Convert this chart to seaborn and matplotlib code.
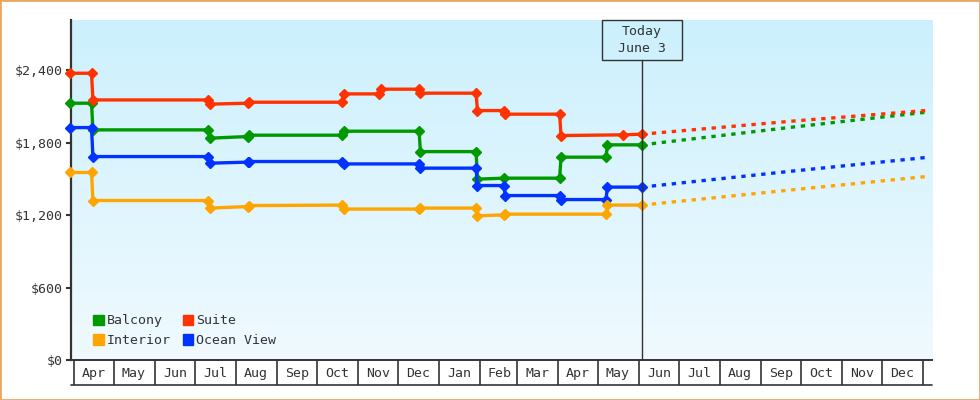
import numpy as np
import pandas as pd
import seaborn as sns
import matplotlib.pyplot as plt
import matplotlib.dates as mdates
from matplotlib.patches import Patch, Rectangle
from matplotlib.colors import LinearSegmentedColormap

# observed cabin prices (each step has a point on both ends)
balcony_dates = ['2024-03-29', '2024-04-14', '2024-04-15', '2024-07-11', '2024-07-12', '2024-08-10',
                 '2024-08-11', '2024-10-20', '2024-10-21', '2024-12-17', '2024-12-18', '2025-01-29',
                 '2025-01-30', '2025-02-19', '2025-04-02', '2025-04-03', '2025-05-07', '2025-05-08',
                 '2025-06-03']
balcony_prices = [2127, 2127, 1906, 1906, 1837, 1851, 1862, 1862, 1895, 1895, 1726, 1726,
                  1498, 1506, 1506, 1680, 1680, 1782, 1782]

suite_dates = ['2024-03-29', '2024-04-14', '2024-04-15', '2024-07-11', '2024-07-12', '2024-08-10',
               '2024-08-11', '2024-10-20', '2024-10-21', '2024-11-17', '2024-11-18', '2024-12-17',
               '2024-12-18', '2025-01-29', '2025-01-30', '2025-02-19', '2025-02-20', '2025-04-02',
               '2025-04-03', '2025-05-20', '2025-06-03']
suite_prices = [2375, 2375, 2154, 2154, 2119, 2127, 2135, 2135, 2204, 2204, 2243, 2243,
                2210, 2210, 2066, 2066, 2036, 2036, 1859, 1865, 1870]

ocean_dates = ['2024-03-29', '2024-04-14', '2024-04-15', '2024-07-11', '2024-07-12', '2024-08-10',
               '2024-08-11', '2024-10-20', '2024-10-21', '2024-12-17', '2024-12-18', '2025-01-29',
               '2025-01-30', '2025-02-19', '2025-02-20', '2025-04-02', '2025-04-03', '2025-05-07',
               '2025-05-08', '2025-06-03']
ocean_prices = [1925, 1925, 1685, 1685, 1630, 1639, 1644, 1644, 1624, 1624, 1589, 1589,
                1445, 1445, 1362, 1362, 1329, 1329, 1432, 1432]

interior_dates = ['2024-03-29', '2024-04-14', '2024-04-15', '2024-07-11', '2024-07-12', '2024-08-10',
                  '2024-08-11', '2024-10-20', '2024-10-21', '2024-12-17', '2024-12-18', '2025-01-29',
                  '2025-01-30', '2025-02-19', '2025-02-20', '2025-05-07', '2025-05-08', '2025-06-03']
interior_prices = [1553, 1553, 1321, 1321, 1258, 1271, 1279, 1283, 1250, 1250, 1258, 1258,
                   1194, 1202, 1208, 1208, 1283, 1283]

# forecast after today
forecast_dates = ['2025-06-03', '2025-09-24', '2026-01-03']
balcony_forecast = [1782, 1928, 2052]
suite_forecast = [1870, 1978, 2066]
ocean_forecast = [1432, 1564, 1677]
interior_forecast = [1283, 1409, 1519]

today = '2025-06-03'
today_label = 'Today\nJune 3'
y_ticks = [0, 600, 1200, 1800, 2400]

colors = {'Balcony': '#009900', 'Interior': '#ffa500', 'Suite': '#ff3300', 'Ocean View': '#0033ff'}

series = [
    ('Balcony', balcony_dates, balcony_prices, balcony_forecast),
    ('Ocean View', ocean_dates, ocean_prices, ocean_forecast),
    ('Interior', interior_dates, interior_prices, interior_forecast),
    ('Suite', suite_dates, suite_prices, suite_forecast),
]

sns.set_style('white')
plt.rcParams['font.family'] = ['DejaVu Sans Mono', 'DejaVu Sans']
dark = '#333333'

fig = plt.figure(figsize=(9.8, 4.0), dpi=100)
ax = fig.add_axes([71 / 980, 0.10, 861 / 980, 0.85])

# light blue gradient background
grad = LinearSegmentedColormap.from_list('bg', ['#f0faff', '#ccf0fd'])
ax.imshow(np.linspace(0, 1, 256).reshape(-1, 1), cmap=grad, origin='lower', aspect='auto',
          extent=[0, 1, 0, 1], transform=ax.transAxes, zorder=0)

for name, d, p, fc in series:
    c = colors[name]
    sns.lineplot(x=pd.to_datetime(d), y=p, ax=ax, color=c, lw=2.4, marker='D', ms=5.0,
                 markeredgecolor=c, markeredgewidth=1.0, estimator=None, sort=False,
                 clip_on=False, zorder=3)
    sns.lineplot(x=pd.to_datetime(forecast_dates), y=fc, ax=ax, color=c, lw=2.4,
                 linestyle=(0, (1.3, 1.7)), dash_capstyle='butt', estimator=None, sort=False,
                 zorder=3)

left = pd.Timestamp('2024-03-29 12:00')
ax.set_xlim(left, left + pd.Timedelta(days=649.3))
ax.set_ylim(0, 2816)

# today marker
t = mdates.date2num(pd.Timestamp(today))
box_h = 40 / 340
ax.axvline(pd.Timestamp(today), ymin=0, ymax=1 - box_h, color=dark, lw=1, zorder=4)
ax.add_patch(Rectangle((t - 30.2, 1 - box_h), 60.4, box_h, transform=ax.get_xaxis_transform(),
                       fill=False, ec=dark, lw=1, clip_on=False, zorder=4))
ax.text(pd.Timestamp(today), 1 - box_h / 2, today_label, transform=ax.get_xaxis_transform(),
        ha='center', va='center', fontsize=9.5, color=dark, linespacing=1.35, zorder=5)

# axes styling
for s in ['top', 'right']:
    ax.spines[s].set_visible(False)
ax.spines['left'].set_color(dark)
ax.spines['left'].set_linewidth(1.6)
ax.spines['bottom'].set_color(dark)
ax.spines['bottom'].set_linewidth(1.4)

ax.set_yticks(y_ticks)
ax.set_yticklabels([f'${v:,}' for v in y_ticks])
ax.tick_params(axis='y', length=3.6, width=1.5, color=dark, labelcolor=dark, labelsize=9.5, pad=2,
               left=True)

ax.xaxis.set_major_locator(mdates.MonthLocator())
ax.xaxis.set_major_formatter(plt.NullFormatter())
ax.xaxis.set_minor_locator(mdates.MonthLocator(bymonthday=16))
ax.xaxis.set_minor_formatter(mdates.DateFormatter('%b'))
ax.tick_params(axis='x', which='major', length=18, width=1.2, color=dark, bottom=True)
ax.tick_params(axis='x', which='minor', length=0, pad=5, labelsize=9.5, labelcolor=dark)
ax.plot([0, 1], [-25 / 340, -25 / 340], transform=ax.transAxes, color=dark, lw=1.2, clip_on=False)
ax.set_xlabel('')
ax.set_ylabel('')

handles = [Patch(color=colors[n]) for n in ['Balcony', 'Interior', 'Suite', 'Ocean View']]
ax.legend(handles, ['Balcony', 'Interior', 'Suite', 'Ocean View'], ncol=2, loc='lower left',
          bbox_to_anchor=(0.0256, 0.038), frameon=False, fontsize=9.5, handlelength=0.83,
          handleheight=0.83, handletextpad=0.2, columnspacing=0.9, labelspacing=0.5,
          borderpad=0, borderaxespad=0, labelcolor=dark)

fig.patches.append(Rectangle((0, 0), 1, 1, transform=fig.transFigure, fill=False,
                             ec='#e8a862', lw=2))

plt.savefig('out.png', dpi=100)
